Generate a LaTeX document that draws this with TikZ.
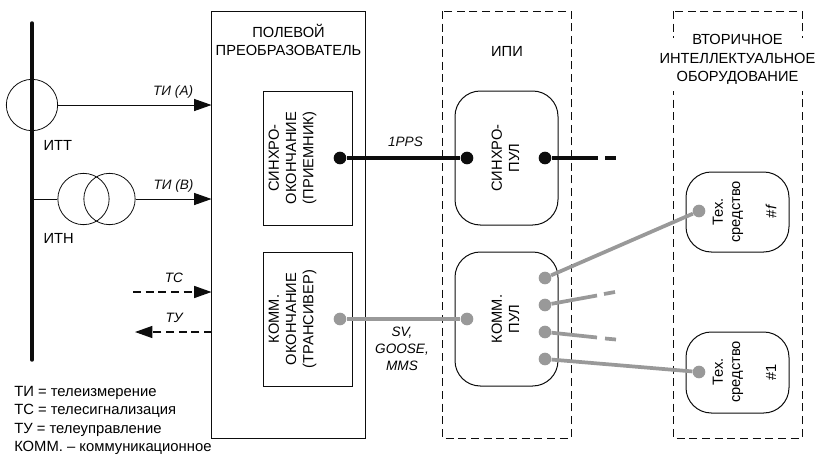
\documentclass[tikz,border=0pt]{standalone}
\usepackage{fontspec}
\setmainfont{Liberation Sans}
\usetikzlibrary{calc, arrows.meta, positioning}
\definecolor{mainBlack}{gray}{0.05}
\definecolor{linkGray}{gray}{0.6}
\tikzset{
    block/.style={draw=mainBlack, line width=0.75pt},
    zone/.style={draw=mainBlack, line width=0.75pt, dash pattern=on 6pt off 3.5pt},
    pool/.style={draw=mainBlack, line width=0.75pt, rounded corners=19pt},
    coil/.style={circle, draw=mainBlack, line width=0.6pt, minimum size=38.5pt, inner sep=0pt},
    blackDot/.style={circle, fill=mainBlack, minimum size=9.5pt, inner sep=0pt},
    grayDot/.style={circle, fill=linkGray, minimum size=9.5pt, inner sep=0pt},
    blackLink/.style={mainBlack, line width=2.6pt},
    grayLink/.style={linkGray, line width=2.8pt},
    signal/.style={mainBlack, line width=0.75pt, -{Triangle[length=13pt, width=9pt]}},
    title/.style={align=center, font=\fontsize{11}{13.8}\selectfont, inner sep=1pt},
    vertical/.style={align=center, rotate=90, font=\fontsize{11}{13}\selectfont, inner sep=0pt},
    tag/.style={font=\fontsize{10.2}{12.6}\selectfont\itshape, inner sep=0pt, align=center},
}
\begin{document}
\begin{tikzpicture}[x=0.75pt, y=-0.75pt]
        \useasboundingbox (0,0) rectangle (815,455);
        % bus and instrument transformers
        \coordinate (busTop) at (32,23);
        \coordinate (busEnd) at (32,360);
        \draw[mainBlack, line width=2.6pt, line cap=round] (busTop) -- (busEnd);
        \node[coil] (ct) at (32,105) {};
        \node[coil] (vtA) at (83.5,199) {};
        \node[coil] (vtB) at (109.5,199) {};
        \coordinate (busVt) at (32,199);
        \draw[mainBlack, line width=0.75pt] (busVt) -- (vtA.west);
        \node[title, anchor=west] (ctName) at (42,145) {ИТТ};
        \node[title, anchor=west] (vtName) at (42,238) {ИТН};

        % outer boxes
        \draw[block] (211.5,11) rectangle (365.5,438);
        \draw[zone] (442,11) rectangle (571,438);
        \draw[zone] (673,11) rectangle (802,438);
        \fill[white] (660,38) rectangle (812,91);
        \node[title] (fieldName) at (288.5,40) {ПОЛЕВОЙ\\ПРЕОБРАЗОВАТЕЛЬ};
        \node[title] (hubName) at (507,51) {ИПИ};
        \node[title] (iedName) at (737.5,59.5) {ВТОРИЧНОЕ\\ИНТЕЛЛЕКТУАЛЬНОЕ\\ОБОРУДОВАНИЕ};

        % inner boxes
        \draw[block] (263,91) rectangle (352.5,225);
        \draw[block] (263,252) rectangle (352.5,386);
        \draw[pool] (455,91) rectangle (558,225);
        \draw[pool] (455,252) rectangle (558,386);
        \draw[pool] (686,172) rectangle (789,252);
        \draw[pool] (686,332) rectangle (789,413);
        \node[vertical] (syncEnd) at (292.5,158) {СИНХРО-\\ОКОНЧАНИЕ\\(ПРИЕМНИК)};
        \node[vertical] (commEnd) at (292.5,319) {КОММ.\\ОКОНЧАНИЕ\\(ТРАНСИВЕР)};
        \node[vertical] (syncPool) at (505.5,158) {СИНХРО-\\ПУЛ};
        \node[vertical] (commPool) at (505.5,319) {КОММ.\\ПУЛ};
        \node[vertical] (devF) at (728,212) {Тех.\\средство};
        \node[vertical] (devOne) at (728,372) {Тех.\\средство};
        \node[vertical, font=\fontsize{11}{13}\selectfont\itshape] (numF) at (771,212) {\#\textit{f}};
        \node[vertical] (numOne) at (771,372) {\#1};

        % signals
        \coordinate (fieldA) at (211.5,105);
        \coordinate (fieldB) at (211.5,199);
        \coordinate (fieldC) at (211.5,292);
        \coordinate (fieldD) at (212,332);
        \coordinate (tsFree) at (133,292);
        \coordinate (tuFree) at (135,332);
        \draw[signal] (ct.east) -- (fieldA) node[pos=0.75, tag, above=5pt] (tiA) {ТИ (А)};
        \draw[signal] (vtB.east) -- (fieldB) node[pos=0.5, tag, above=5pt] (tiB) {ТИ (В)};
        \draw[signal, dash pattern=on 6pt off 3.5pt, line width=1pt] (tsFree) -- (fieldC);
        \draw[signal, dash pattern=on 6pt off 3.5pt, line width=1pt] (fieldD) -- (tuFree);
        \node[tag] (tsName) at (174,278) {ТС};
        \node[tag] (tuName) at (174,318) {ТУ};

        % links
        \node[blackDot] (syncA) at (340,158) {};
        \node[blackDot] (syncB) at (467,158) {};
        \node[blackDot] (syncC) at (545,158) {};
        \coordinate (syncStub) at (598,158);
        \coordinate (syncDashA) at (605,158);
        \coordinate (syncDashB) at (616,158);
        \draw[blackLink] (syncA) -- (syncB) node[midway, tag, above=7pt, xshift=1.5pt] (ppsName) {1PPS};
        \draw[blackLink] (syncC) -- (syncStub);
        \draw[blackLink] (syncDashA) -- (syncDashB);

        \node[grayDot] (commA) at (340,319) {};
        \node[grayDot] (commB) at (467,319) {};
        \draw[grayLink] (commA) -- (commB);
        \node[tag, anchor=north] (busName) at (402,327) {SV,\\GOOSE,\\MMS};

        \foreach \i/\y in {1/278, 2/305, 3/332, 4/359} {
            \node[grayDot] (port\i) at (545,\y) {};
        }
        \node[grayDot] (devDotF) at (699,211) {};
        \node[grayDot] (devDotOne) at (699,372) {};
        \draw[grayLink] (port1) -- (devDotF);
        \draw[grayLink] (port4) -- (devDotOne);
        \coordinate (stubB) at (597,295.5);
        \coordinate (stubBa) at (604,294);
        \coordinate (stubBb) at (615,292);
        \coordinate (stubC) at (597,337.5);
        \coordinate (stubCa) at (605,338.5);
        \coordinate (stubCb) at (616,339.5);
        \draw[grayLink] (port2) -- (stubB);
        \draw[grayLink] (stubBa) -- (stubBb);
        \draw[grayLink] (port3) -- (stubC);
        \draw[grayLink] (stubCa) -- (stubCb);

        % legend
        \node[anchor=north west, align=left, inner sep=0pt, font=\fontsize{11.1}{13.8}\selectfont] (legendText) at (14,386) {ТИ = телеизмерение\\ТС = телесигнализация\\ТУ = телеуправление\\КОММ. -- коммуникационное};
    \end{tikzpicture}
\end{document}
